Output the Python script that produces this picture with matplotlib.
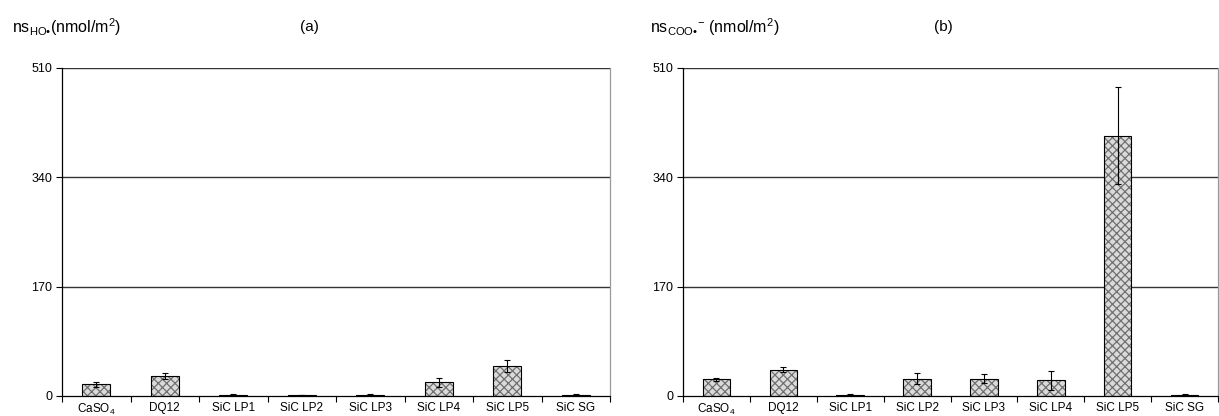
import numpy as np
import matplotlib
matplotlib.use('Agg')
import matplotlib.pyplot as plt

plt.rcParams['font.family'] = ['Liberation Sans', 'DejaVu Sans']
plt.rcParams['mathtext.fontset'] = 'custom'
plt.rcParams['mathtext.rm'] = 'Liberation Sans'
plt.rcParams['mathtext.it'] = 'Liberation Sans'
plt.rcParams['hatch.linewidth'] = 0.9

categories = ['CaSO$_4$', 'DQ12', 'SiC LP1', 'SiC LP2', 'SiC LP3', 'SiC LP4', 'SiC LP5', 'SiC SG']
ho_vals = [18, 31, 2, 1.5, 2, 21, 47, 2]
ho_err = [4, 4, 0.5, 0.5, 0.5, 7, 9, 0.5]
coo_vals = [26, 41, 2, 27, 27, 24.5, 405, 2]
coo_err = [2, 4, 0.5, 9, 7, 15, 75, 0.5]
yticks = [0, 170, 340, 510]

fig = plt.figure(figsize=(12.19, 4.16), dpi=100)
ax1 = fig.add_axes([0.0509, 0.0481, 0.4496, 0.7885])
ax2 = fig.add_axes([0.5603, 0.0481, 0.4389, 0.7885])


def draw(ax, vals, errs, right_spine):
    x = np.arange(len(categories))
    ax.bar(x, vals, width=0.41, color='#dadada', edgecolor='#707070',
           hatch='xxxx', linewidth=0, zorder=2)
    ax.bar(x, vals, width=0.41, fill=False, edgecolor='black', linewidth=0.8, zorder=3)
    ax.errorbar(x, vals, yerr=errs, fmt='none', ecolor='black', elinewidth=0.8,
                capsize=2.5, capthick=0.8, zorder=4)
    ax.set_xlim(-0.5, len(categories) - 0.5)
    ax.set_ylim(0, 510)
    ax.set_yticks(yticks)
    ax.set_yticklabels([str(t) for t in yticks], fontsize=9)
    for t in yticks[1:]:
        ax.axhline(t, color='#333333', linewidth=1.0, zorder=1)
    ax.set_xticks(x)
    ax.set_xticklabels(categories, fontsize=8.5)
    ax.set_xticks(np.arange(len(categories) + 1) - 0.5, minor=True)
    ax.tick_params(axis='x', which='major', length=0, pad=4)
    ax.tick_params(axis='x', which='minor', length=4, width=0.8, direction='out')
    ax.tick_params(axis='y', length=4, width=0.8, direction='out', pad=3)
    ax.spines['top'].set_visible(False)
    ax.spines['left'].set_linewidth(0.9)
    ax.spines['bottom'].set_linewidth(0.9)
    if right_spine:
        ax.spines['right'].set_color('#999999')
        ax.spines['right'].set_linewidth(0.9)
    else:
        ax.spines['right'].set_visible(False)


draw(ax1, ho_vals, ho_err, True)
draw(ax2, coo_vals, coo_err, True)

fig.text(0.01, 0.935, 'ns$_{\\mathregular{HO\u2022}}$(nmol/m$^{\\mathregular{2}}$)', fontsize=11.5, va='center')
fig.text(0.246, 0.935, '(a)', fontsize=11, va='center')
fig.text(0.533, 0.935, 'ns$_{\\mathregular{COO\u2022}}$$^{\\mathregular{-}}$ (nmol/m$^{\\mathregular{2}}$)', fontsize=11.5, va='center')
fig.text(0.766, 0.935, '(b)', fontsize=11, va='center')

fig.savefig('out.png', dpi=100)
